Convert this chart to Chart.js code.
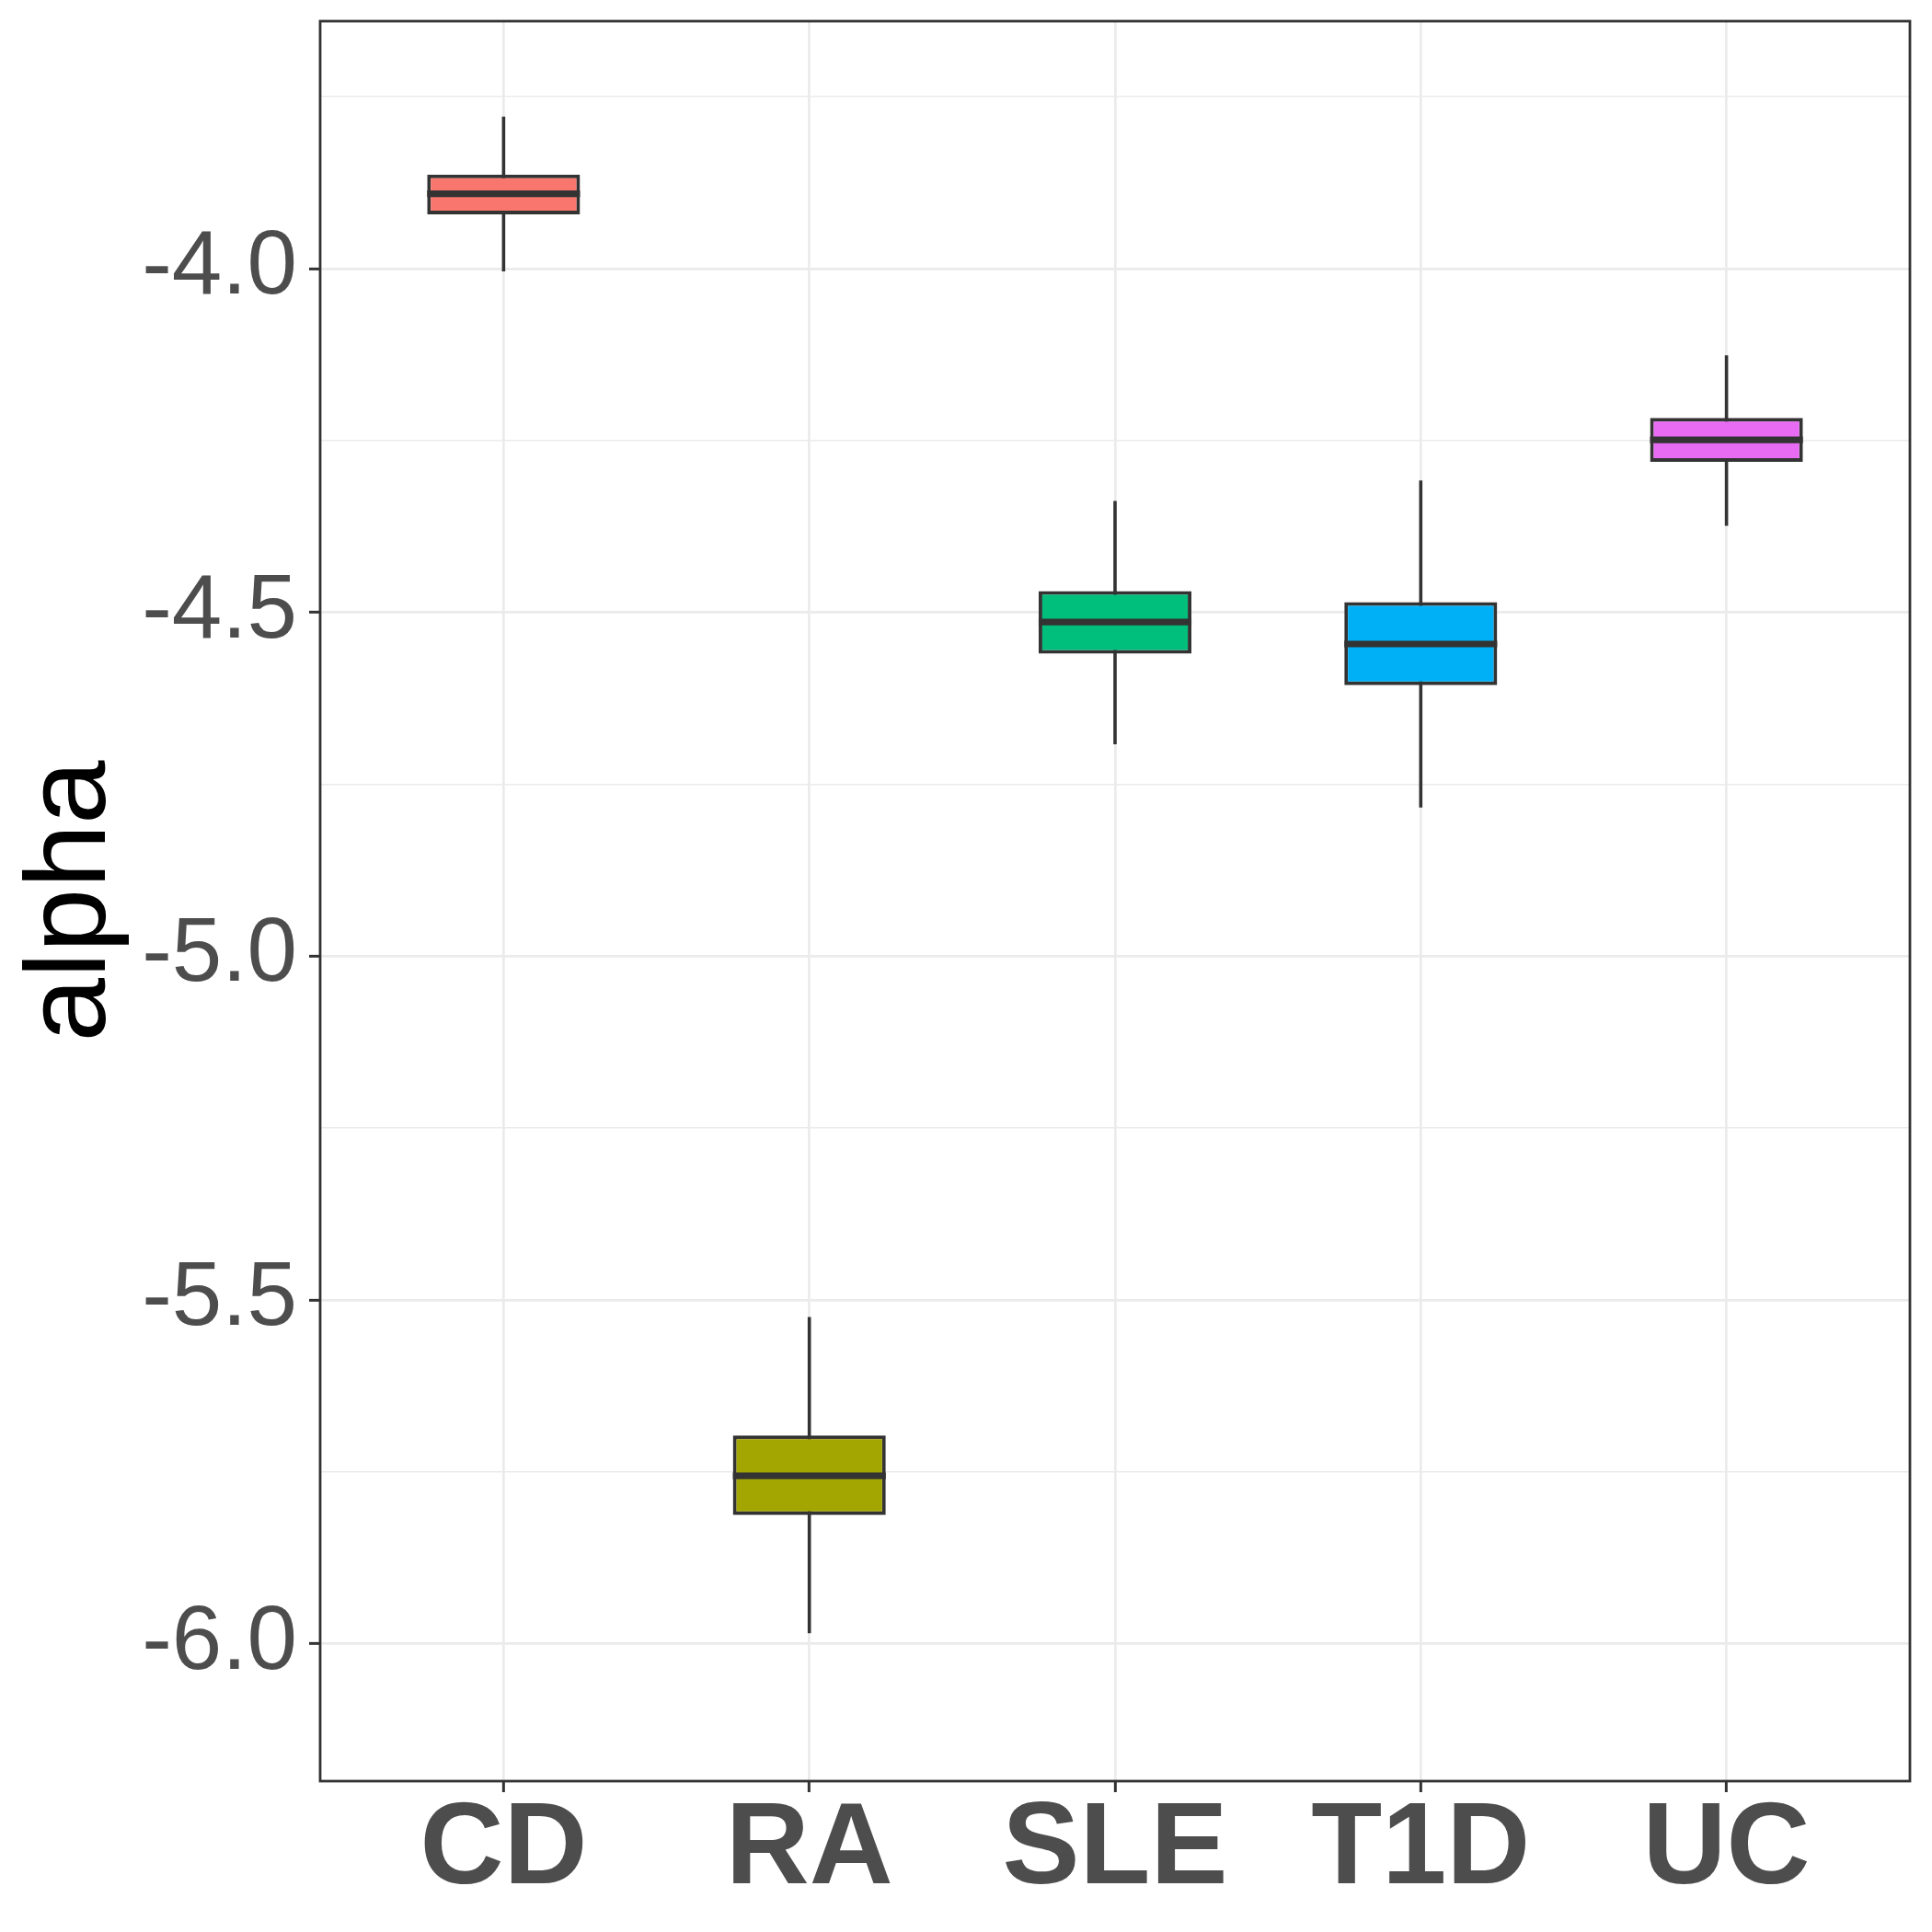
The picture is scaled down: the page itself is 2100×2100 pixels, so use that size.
<!DOCTYPE html>
<html>
<head>
<meta charset="utf-8">
<script src="https://cdn.jsdelivr.net/npm/chart.js@4"></script>
<style>
  html, body { margin: 0; padding: 0; background: #ffffff; }
  #wrap { width: 2100px; height: 2100px; }
</style>
</head>
<body>
<div id="wrap"><canvas id="alpha-chart" width="2100" height="2100"></canvas></div>
<script>
// valeurs
const categories = ['CD', 'RA', 'SLE', 'T1D', 'UC'];
const whiskerLow = [-4.004, -5.985, -4.692, -4.784, -4.374];
const q1 = [-3.921, -5.813, -4.560, -4.606, -4.281];
const median = [-3.891, -5.756, -4.514, -4.546, -4.249];
const q3 = [-3.863, -5.697, -4.469, -4.485, -4.217];
const whiskerHigh = [-3.779, -5.525, -4.338, -4.308, -4.126];
const fillColors = ['#F8766D', '#A3A500', '#00BF7D', '#00B0F6', '#E76BF3'];
const yTicks = [-6.0, -5.75, -5.5, -5.25, -5.0, -4.75, -4.5, -4.25, -4.0, -3.75];

const isMajor = v => Math.abs(v * 2 - Math.round(v * 2)) < 1e-6;

// moustaches, medianes et cadre du panneau
const boxPlugin = {
  id: 'boxParts',
  beforeDatasetsDraw(chart) {
    const {ctx, scales: {x, y}} = chart;
    ctx.save();
    ctx.strokeStyle = '#333333';
    ctx.lineWidth = 3.6;
    categories.forEach((c, i) => {
      const px = x.getPixelForValue(i + 1);
      ctx.beginPath();
      ctx.moveTo(px, y.getPixelForValue(whiskerLow[i]));
      ctx.lineTo(px, y.getPixelForValue(whiskerHigh[i]));
      ctx.stroke();
    });
    ctx.restore();
  },
  afterDatasetsDraw(chart) {
    const {ctx, chartArea, scales: {x, y}} = chart;
    const bars = chart.getDatasetMeta(0).data;
    ctx.save();
    ctx.strokeStyle = '#333333';
    ctx.lineWidth = 7.2;
    categories.forEach((c, i) => {
      const px = x.getPixelForValue(i + 1);
      const half = bars[i].width / 2;
      const py = y.getPixelForValue(median[i]);
      ctx.beginPath();
      ctx.moveTo(px - half, py);
      ctx.lineTo(px + half, py);
      ctx.stroke();
    });
    ctx.lineWidth = 2.8;
    ctx.strokeRect(chartArea.left, chartArea.top,
      chartArea.right - chartArea.left, chartArea.bottom - chartArea.top);
    ctx.restore();
  }
};

const ctx = document.getElementById('alpha-chart').getContext('2d');
new Chart(ctx, {
  type: 'bar',
  data: {
    datasets: [{
      data: categories.map((c, i) => ({x: i + 1, y: [q1[i], q3[i]]})),
      backgroundColor: fillColors,
      borderColor: '#333333',
      borderWidth: 4,
      borderSkipped: false,
      barPercentage: 0.5,
      categoryPercentage: 1.0
    }]
  },
  options: {
    responsive: false,
    devicePixelRatio: 1,
    animation: false,
    layout: { padding: { left: 0, top: 23, right: 24, bottom: 0 } },
    plugins: {
      legend: { display: false },
      tooltip: { enabled: false }
    },
    scales: {
      x: {
        type: 'linear',
        offset: false,
        min: 0.4,
        max: 5.6,
        afterBuildTicks: s => { s.ticks = categories.map((c, i) => ({value: i + 1})); },
        afterFit: s => { s.height = 164; s.paddingLeft = 0; s.paddingRight = 0; },
        border: { display: false },
        grid: {
          offset: false,
          color: '#EBEBEB',
          lineWidth: 2.7,
          tickColor: '#333333',
          tickLength: 12,
          tickWidth: 3
        },
        ticks: {
          autoSkip: false,
          maxRotation: 0,
          padding: 1,
          color: '#4D4D4D',
          font: { family: '"Liberation Sans", Arial, sans-serif', size: 126, weight: 'bold', lineHeight: 1 },
          callback: v => categories[Math.round(v) - 1] || ''
        }
      },
      y: {
        type: 'linear',
        min: -6.200,
        max: -3.640,
        afterBuildTicks: s => { s.ticks = yTicks.map(v => ({value: v})); },
        afterFit: s => { s.width = 348; s.paddingTop = 0; s.paddingBottom = 0; },
        border: { display: false },
        grid: {
          color: '#EBEBEB',
          lineWidth: c => isMajor(c.tick.value) ? 2.7 : 1.4,
          tickColor: c => isMajor(c.tick.value) ? '#333333' : 'rgba(0,0,0,0)',
          tickLength: 12,
          tickWidth: 3
        },
        ticks: {
          autoSkip: false,
          padding: 13,
          color: '#4D4D4D',
          font: { family: '"Liberation Sans", Arial, sans-serif', size: 98 },
          callback: v => isMajor(v) ? v.toFixed(1) : ''
        },
        title: {
          display: true,
          text: 'alpha',
          color: '#000000',
          padding: { top: 17, bottom: 0 },
          font: { family: '"Liberation Sans", Arial, sans-serif', size: 125, lineHeight: 1 }
        }
      }
    }
  },
  plugins: [boxPlugin]
});
</script>
</body>
</html>
